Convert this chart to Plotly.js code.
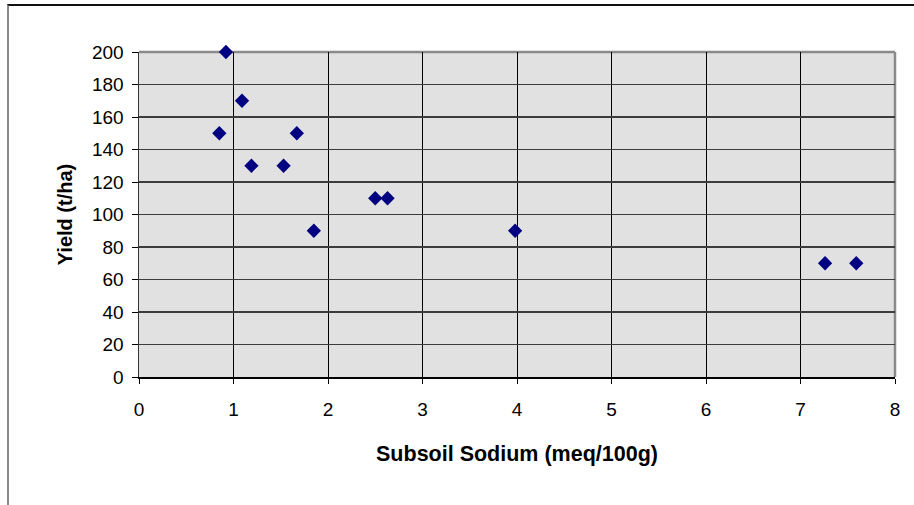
<!DOCTYPE html>
<html>
<head>
<meta charset="utf-8">
<script src="https://cdn.plot.ly/plotly-3.0.1.min.js"></script>
<style>
html,body{margin:0;padding:0;background:#fff;}
#wrap{position:relative;width:914px;height:505px;overflow:hidden;}
#chart{width:914px;height:505px;}
#frame{position:absolute;left:7px;top:4px;width:1000px;height:600px;border-top:2px solid #111;border-left:2px solid #8a8a8a;pointer-events:none;}
</style>
</head>
<body>
<div id="wrap"><div id="chart"></div><div id="frame"></div></div>
<script>
const sodium = [0.92, 1.09, 0.85, 1.67, 1.19, 1.53, 2.50, 2.63, 1.85, 3.98, 7.26, 7.59];
const yieldTHa = [200, 170, 150, 150, 130, 130, 110, 110, 90, 90, 70, 70];
const xTicks = [0, 1, 2, 3, 4, 5, 6, 7, 8];
const yTicks = [0, 20, 40, 60, 80, 100, 120, 140, 160, 180, 200];

const trace = {
  x: sodium, y: yieldTHa, type: 'scatter', mode: 'markers',
  cliponaxis: false,
  marker: {symbol: 'diamond', size: 11, color: '#000080', line: {width: 0}},
  hoverinfo: 'x+y'
};

const font = "Arial, 'Liberation Sans', sans-serif";
const layout = {
  width: 914, height: 505,
  margin: {l: 139, r: 19, t: 52, b: 128, pad: 0},
  paper_bgcolor: '#ffffff', plot_bgcolor: '#e1e1e1',
  showlegend: false,
  font: {family: font, size: 16, color: '#000'},
  xaxis: {
    range: [0, 8], tickvals: xTicks, ticktext: xTicks.map(String),
    showgrid: true, gridcolor: '#000', gridwidth: 1,
    zeroline: false, showline: true, linecolor: '#000', linewidth: 1.5,
    ticks: 'outside', ticklen: 5, tickcolor: '#000', tickwidth: 1,
    tickfont: {family: font, size: 19, color: '#000'},
    ticklabelstandoff: 10,
    title: {text: 'Subsoil Sodium (meq/100g)', font: {family: font, size: 21.5, color: '#000', weight: 'bold'}, standoff: 26}
  },
  yaxis: {
    range: [0, 200], tickvals: yTicks, ticktext: yTicks.map(String),
    showgrid: true, gridcolor: '#3c3c3c', gridwidth: 1.5,
    zeroline: false, showline: true, linecolor: '#333', linewidth: 1.5,
    ticks: 'outside', ticklen: 6, tickcolor: '#000', tickwidth: 1,
    tickfont: {family: font, size: 19, color: '#000'},
    ticklabelstandoff: 4,
    title: {text: 'Yield (t/ha)', font: {family: font, size: 20, color: '#000', weight: 'bold'}, standoff: 14}
  },
  shapes: [
    {type: 'line', xref: 'paper', yref: 'paper', x0: 0, x1: 1, y0: 1, y1: 1, line: {color: '#8a8a8a', width: 2.5}, layer: 'below'},
    {type: 'line', xref: 'paper', yref: 'paper', x0: 1, x1: 1, y0: 0, y1: 1, line: {color: '#8a8a8a', width: 2.5}, layer: 'below'}
  ]
};

Plotly.newPlot('chart', [trace], layout, {displayModeBar: false, staticPlot: true});
</script>
</body>
</html>
